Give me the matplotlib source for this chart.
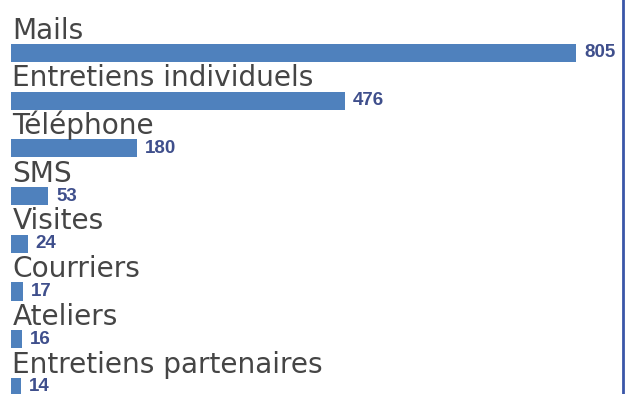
import matplotlib
matplotlib.use("Agg")
import matplotlib.pyplot as plt

categories = ["Mails", "Entretiens individuels", "Téléphone", "SMS", "Visites",
              "Courriers", "Ateliers", "Entretiens partenaires"]
values = [805, 476, 180, 53, 24, 17, 16, 14]

W, H = 630, 394
fig = plt.figure(figsize=(W / 100, H / 100), dpi=100)
ax = fig.add_axes([11 / W, 0, (623 - 11) / W, 1])

bar_color = "#4f81bd"
pos = list(range(len(categories)))
ax.barh(pos, values, height=0.38, color=bar_color)

ax.set_xlim(0, 872)
ax.set_ylim(7.15, -1.11)

for i, (c, v) in enumerate(zip(categories, values)):
    ax.text(2, i - 0.3, c, ha="left", va="baseline", fontsize=20.2,
            family="DejaVu Sans", color="#454545")
    ax.annotate(str(v), (v, i), xytext=(8, 0), textcoords="offset pixels",
                ha="left", va="center", fontsize=13.5, fontweight="bold",
                family="Liberation Sans", color="#3f4f8c")

for s in ["top", "left", "bottom"]:
    ax.spines[s].set_visible(False)
ax.spines["right"].set_color("#3a56a8")
ax.spines["right"].set_linewidth(2)
ax.set_xticks([])
ax.set_yticks([])

fig.savefig("out.png", dpi=100)
